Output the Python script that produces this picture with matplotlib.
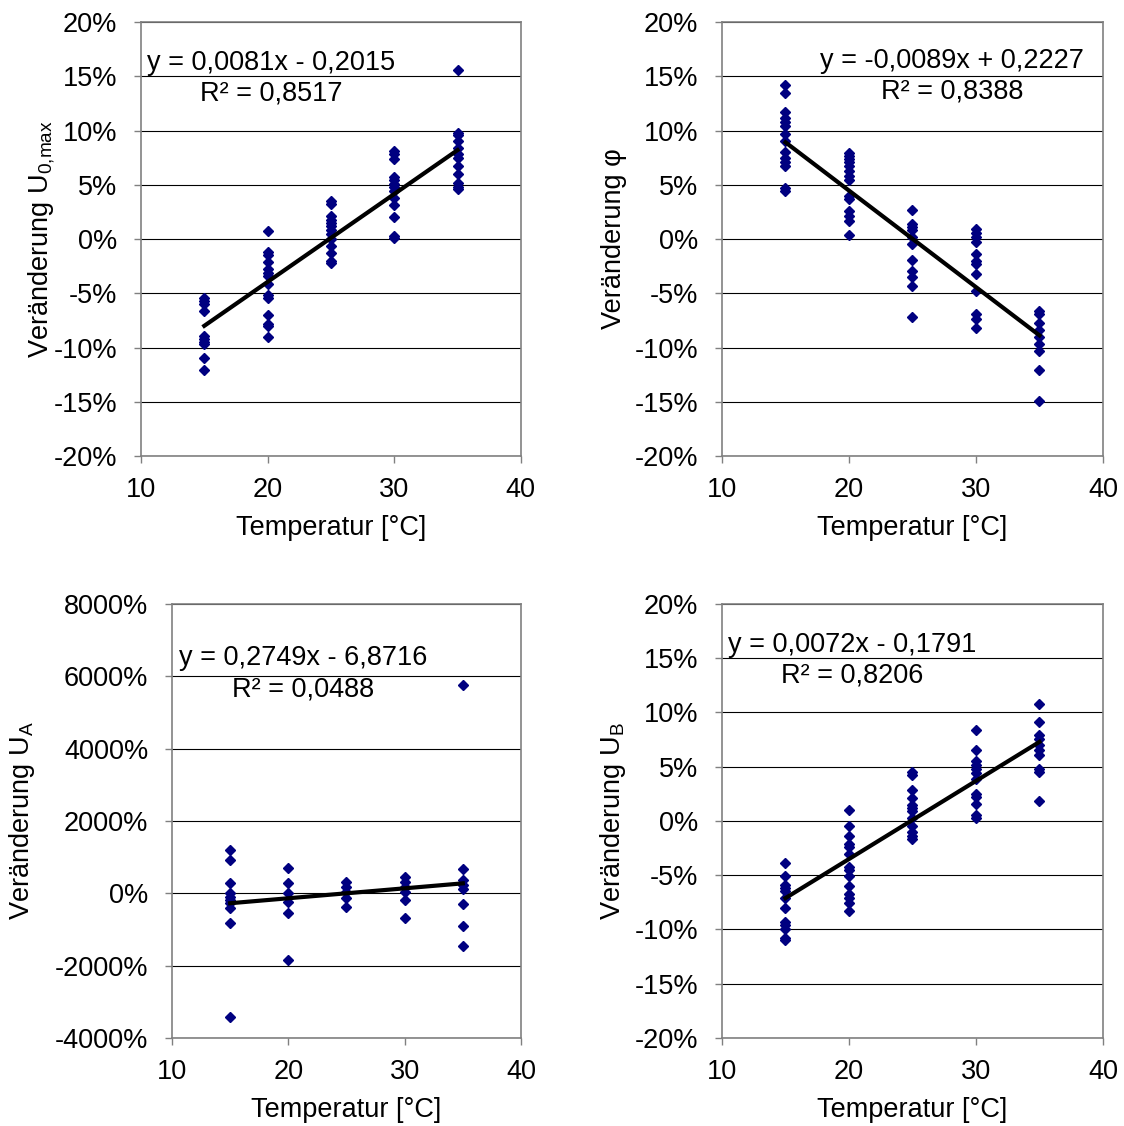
import numpy as np
import matplotlib
matplotlib.use('Agg')
import matplotlib.pyplot as plt
from matplotlib.ticker import PercentFormatter, MultipleLocator

plt.rcParams['font.family'] = ['Liberation Sans', 'DejaVu Sans']
plt.rcParams['axes.unicode_minus'] = False

# Temperature levels
temps = [15, 20, 25, 30, 35]

# Veränderung U0,max (fractions), per temperature
u0_15 = [-0.054, -0.057, -0.060, -0.066, -0.089, -0.092, -0.095, -0.097, -0.110, -0.121]
u0_20 = [0.007, -0.012, -0.015, -0.021, -0.028, -0.031, -0.034, -0.041, -0.052, -0.054, -0.070, -0.078, -0.080, -0.090]
u0_25 = [0.035, 0.032, 0.021, 0.018, 0.015, 0.012, 0.008, 0.005, 0.000, -0.006, -0.013, -0.020, -0.022]
u0_30 = [0.081, 0.078, 0.074, 0.057, 0.054, 0.051, 0.048, 0.044, 0.038, 0.031, 0.020, 0.003, 0.001]
u0_35 = [0.156, 0.098, 0.096, 0.090, 0.084, 0.078, 0.075, 0.067, 0.060, 0.052, 0.048, 0.046]

# Veränderung phi
phi_15 = [0.142, 0.135, 0.117, 0.112, 0.108, 0.104, 0.097, 0.090, 0.080, 0.075, 0.071, 0.067, 0.047, 0.044]
phi_20 = [0.079, 0.077, 0.074, 0.071, 0.067, 0.063, 0.058, 0.054, 0.040, 0.037, 0.026, 0.021, 0.017, 0.004]
phi_25 = [0.027, 0.014, 0.011, 0.008, 0.002, -0.005, -0.019, -0.029, -0.035, -0.043, -0.072]
phi_30 = [0.009, 0.006, 0.002, -0.003, -0.014, -0.020, -0.023, -0.032, -0.048, -0.069, -0.074, -0.082]
phi_35 = [-0.066, -0.069, -0.077, -0.084, -0.090, -0.097, -0.103, -0.121, -0.149]

# Veränderung UA
ua_15 = [12.1, 9.17, 2.93, 0.0, -0.92, -1.83, -2.75, -4.13, -8.25, -34.2]
ua_20 = [7.06, 2.93, 0.0, -2.29, -5.32, -18.5]
ua_25 = [3.21, 1.83, 0.46, -1.38, -3.67]
ua_30 = [4.40, 3.21, 1.83, 0.46, -1.83, -6.88]
ua_35 = [57.5, 6.60, 3.67, 2.29, 1.10, -3.03, -8.99, -14.67]

# Veränderung UB
ub_15 = [-0.039, -0.051, -0.059, -0.062, -0.065, -0.071, -0.080, -0.093, -0.096, -0.100, -0.108, -0.110]
ub_20 = [0.010, -0.005, -0.014, -0.021, -0.024, -0.030, -0.042, -0.045, -0.051, -0.060, -0.067, -0.071, -0.076, -0.083]
ub_25 = [0.045, 0.042, 0.029, 0.021, 0.015, 0.012, 0.009, 0.0025, -0.005, -0.010, -0.014, -0.017]
ub_30 = [0.084, 0.065, 0.055, 0.052, 0.048, 0.044, 0.039, 0.025, 0.022, 0.016, 0.0055, 0.0025]
ub_35 = [0.108, 0.091, 0.079, 0.076, 0.070, 0.065, 0.061, 0.048, 0.045, 0.018]

# trendline coefficients (slope, intercept) and R²
fits = [(0.0081, -0.2015, 0.8517), (-0.0089, 0.2227, 0.8388),
        (0.2749, -6.8716, 0.0488), (0.0072, -0.1791, 0.8206)]

panels = [
    dict(data=[u0_15, u0_20, u0_25, u0_30, u0_35], ylabel='Veränderung U$_\\mathregular{0{,}max}$',
         ylim=(-0.2, 0.2), step=0.05, rect=[0.1254, 0.595, 0.338, 0.3854], eq=(20.3, 0.162, 0.1346), lx=-0.221),
    dict(data=[phi_15, phi_20, phi_25, phi_30, phi_35], ylabel='Veränderung φ',
         ylim=(-0.2, 0.2), step=0.05, rect=[0.6423, 0.595, 0.339, 0.3854], eq=(28.1, 0.164, 0.136), lx=-0.249),
    dict(data=[ua_15, ua_20, ua_25, ua_30, ua_35], ylabel='Veränderung U$_\\mathregular{A}$',
         ylim=(-40, 80), step=20, rect=[0.153, 0.0782, 0.3105, 0.3854], eq=(21.26, 65.06, 56.49), lx=-0.387),
    dict(data=[ub_15, ub_20, ub_25, ub_30, ub_35], ylabel='Veränderung U$_\\mathregular{B}$',
         ylim=(-0.2, 0.2), step=0.05, rect=[0.6423, 0.0782, 0.339, 0.3854], eq=(20.28, 0.162, 0.134), lx=-0.247),
]

fig = plt.figure(figsize=(11.24, 11.26), dpi=100)
fs = 19.5

for p, (m, b, r2) in zip(panels, fits):
    ax = fig.add_axes(p['rect'])
    for t, vals in zip(temps, p['data']):
        ax.plot([t] * len(vals), vals, linestyle='none', marker='D', ms=5.5,
                color='#000080', zorder=3)
    xs = np.array([15, 35])
    ax.plot(xs, m * xs + b, color='black', lw=3, zorder=4)
    ax.set_xlim(10, 40)
    ax.set_ylim(*p['ylim'])
    ax.xaxis.set_major_locator(MultipleLocator(10))
    ax.yaxis.set_major_locator(MultipleLocator(p['step']))
    ax.yaxis.set_major_formatter(PercentFormatter(xmax=1, decimals=0))
    ax.grid(axis='y', color='black', lw=0.8, zorder=1)
    ax.set_axisbelow(True)
    for s in ax.spines.values():
        s.set_color('#808080')
        s.set_linewidth(1.2)
    ax.tick_params(direction='out', length=5, width=1, color='#808080', labelsize=fs)
    ax.tick_params(axis='y', pad=12)
    ax.tick_params(axis='x', pad=10)
    ax.set_xlabel('Temperatur [°C]', fontsize=fs, labelpad=9)
    ax.set_ylabel(p['ylabel'], fontsize=fs)
    ax.yaxis.set_label_coords(p['lx'], 0.5)
    ex, ey1, ey2 = p['eq']
    sgn = '-' if b < 0 else '+'
    eq = f'y = {m:.4f}x {sgn} {abs(b):.4f}'.replace('.', ',')
    ax.text(ex, ey1, eq, ha='center', va='center', fontsize=fs, zorder=5)
    ax.text(ex, ey2, f'R² = {r2:.4f}'.replace('.', ','), ha='center', va='center', fontsize=fs, zorder=5)

fig.savefig('out.png', dpi=100)
